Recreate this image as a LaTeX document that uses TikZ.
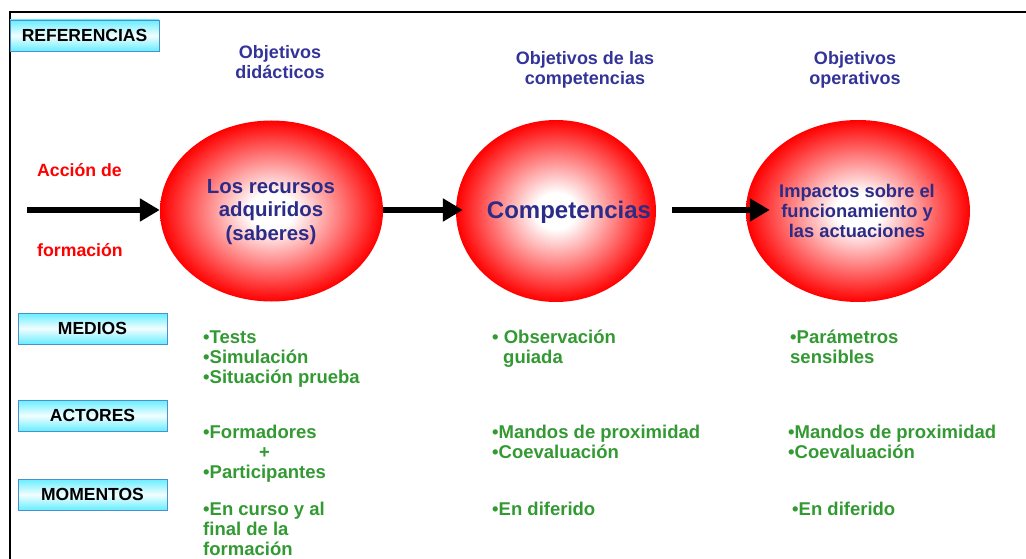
\documentclass[tikz,border=0pt]{standalone}
\usepackage{fontspec}
\setmainfont{Liberation Sans}
\usetikzlibrary{arrows.meta,shapes.geometric}
\definecolor{hdrblue}{HTML}{333399}
\definecolor{txtblue}{HTML}{2B2B88}
\definecolor{grn}{HTML}{339933}
\definecolor{refred}{HTML}{FF0000}
\definecolor{boxcyan}{HTML}{66EEFF}
\definecolor{boxedge}{HTML}{4A90D0}
\pgfdeclareradialshading{ballred}{\pgfpoint{0bp}{0bp}}{color(0bp)=(white); color(5bp)=(white); color(16bp)=(red!55!white); color(25bp)=(red); color(50bp)=(red)}
\tikzset{
  refbox/.style={draw=boxedge, line width=0.8pt, top color=boxcyan, bottom color=boxcyan, middle color=white!92!boxcyan,
    minimum width=149pt, minimum height=31pt, inner sep=0pt, font=\fontsize{17.5}{20}\selectfont\bfseries, text=black},
  ball/.style={ellipse, shading=ballred, draw=none, inner sep=0pt},
  hdr/.style={align=center, text=hdrblue, font=\fontsize{18}{20}\selectfont\bfseries, inner sep=0pt},
  inball/.style={align=center, text=txtblue, inner sep=0pt},
  item/.style={align=left, text=grn, anchor=base west, font=\fontsize{18.5}{20}\selectfont\bfseries, inner sep=0pt},
  redlbl/.style={text=refred, anchor=base west, font=\fontsize{17.7}{20}\selectfont\bfseries, inner sep=0pt},
  bigarrow/.style={line width=6pt, -{Triangle[length=20pt,width=22pt]}}
}
\begin{document}
\begin{tikzpicture}[x=1pt,y=-1pt]
\useasboundingbox (0,0) rectangle (1026,559);
% frame
\draw[line width=2pt] (10,559) -- (10,12) -- (1026,12);
% category boxes
\node[refbox] (ref) at (84.5,35.5) {REFERENCIAS};
\node[refbox] (med) at (92.5,328.5) {MEDIOS};
\node[refbox] (act) at (92.5,415.5) {ACTORES};
\node[refbox] (mom) at (92.5,494.5) {MOMENTOS};
% headers
\node[hdr] (h1) at (280,62) {Objetivos\\didácticos};
\node[hdr] (h2) at (585,70) {Objetivos de las\\competencias};
\node[hdr] (h3) at (855,70) {Objetivos\\operativos};
% ellipses
\node[ball, minimum width=223pt, minimum height=181pt] (e1) at (271.5,211) {};
\node[ball, minimum width=200pt, minimum height=182pt] (e2) at (556,211) {};
\node[ball, minimum width=224pt, minimum height=182pt] (e3) at (858,211) {};
\node[inball, font=\fontsize{20.4}{23.5}\selectfont\bfseries] (t1) at (271,212) {Los recursos\\adquiridos\\(saberes)};
\node[inball, font=\fontsize{24}{26}\selectfont\bfseries] (t2) at (569,212) {Competencias};
\node[inball, font=\fontsize{18.3}{20}\selectfont\bfseries] (t3) at (857,211) {Impactos sobre el\\funcionamiento y\\las actuaciones};
% left labels
\node[redlbl] (a1) at (37,177) {Acción de};
\node[redlbl] (a2) at (37,256) {formación};
% arrows
\coordinate (start) at (27,210);
\draw[bigarrow] (start) -- (start -| e1.west);
\draw[bigarrow] (start -| e1.east) -- ([xshift=7pt]start -| e2.west);
\draw[bigarrow] ([xshift=16pt]start -| e2.east) -- ([xshift=24pt]start -| e3.west);
% items column 1 (anchor = baseline of last line)
\node[item] (m1) at (203,383) {•Tests\\•Simulación\\•Situación prueba};
\node[item] (c1) at (203,478) {•Formadores\\\hspace*{56pt}+\\•Participantes};
\node[item] (o1) at (203,555) {•En curso y al\\final de la\\formación};
% column 2
\node[item] (m2) at (492,363) {• Observación\\\hspace*{11pt}guiada};
\node[item] (c2) at (492,458) {•Mandos de proximidad\\•Coevaluación};
\node[item] (o2) at (492,515) {•En diferido};
% column 3
\node[item] (m3) at (790,363) {•Parámetros\\sensibles};
\node[item] (c3) at (788,458) {•Mandos de proximidad\\•Coevaluación};
\node[item] (o3) at (792,515) {•En diferido};
\end{tikzpicture}
\end{document}
